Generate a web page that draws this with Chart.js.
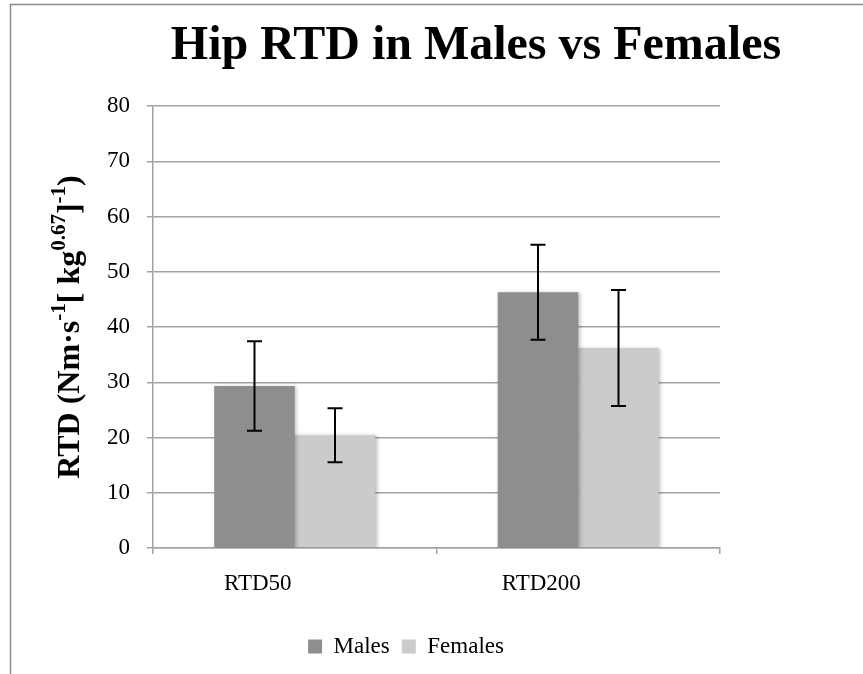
<!DOCTYPE html>
<html>
<head>
<meta charset="utf-8">
<script src="https://cdn.jsdelivr.net/npm/chart.js@4"></script>
<style>
  html, body { margin: 0; padding: 0; background: #ffffff; overflow: hidden; }
  #wrap { position: relative; width: 863px; height: 674px; }
</style>
</head>
<body>
<div id="wrap"><canvas id="c" width="863" height="674"></canvas></div>
<script>
// ---- data ----
const categories = ['RTD50', 'RTD200'];
const seriesNames = ['Males', 'Females'];
const males = [29.3, 46.3];
const malesErr = [8.1, 8.6];
const females = [20.4, 36.2];
const femalesErr = [4.9, 10.5];
const yTicks = [0, 10, 20, 30, 40, 50, 60, 70, 80];
const chartTitle = 'Hip RTD in Males vs Females';
// y axis title segments: [text, superscript?]
const yTitleParts = [
  ['RTD (Nm\u00B7s', false], ['-1', true], ['[ kg', false], ['0.67', true],
  [']', false], ['-1', true], [')', false]
];

const SERIF = '"Liberation Serif", "Times New Roman", serif';
const GRID = '#a3a3a3';

const errs = [malesErr, femalesErr];

const framePlugin = {
  id: 'frame',
  beforeDraw(chart) {
    const ctx = chart.ctx;
    ctx.save();
    ctx.fillStyle = '#ffffff';
    ctx.fillRect(0, 0, chart.width, chart.height);
    ctx.strokeStyle = '#8c8c8c';
    ctx.lineWidth = 1.5;
    ctx.beginPath();
    ctx.moveTo(10.5, chart.height);
    ctx.lineTo(10.5, 4.5);
    ctx.lineTo(chart.width, 4.5);
    ctx.stroke();
    ctx.restore();
  },
  afterDraw(chart) {
    const ctx = chart.ctx;
    // title
    ctx.save();
    ctx.fillStyle = '#000';
    ctx.font = 'bold 48px ' + SERIF;
    ctx.textAlign = 'center';
    ctx.textBaseline = 'alphabetic';
    ctx.fillText(chartTitle, 476, 59);
    ctx.restore();
    // rotated y-axis title with superscripts
    const area = chart.chartArea;
    const mainSize = 32, supSize = 21;
    ctx.save();
    ctx.fillStyle = '#000';
    const widths = yTitleParts.map(([t, sup]) => {
      ctx.font = 'bold ' + (sup ? supSize : mainSize) + 'px ' + SERIF;
      return ctx.measureText(t).width;
    });
    const total = widths.reduce((a, b) => a + b, 0);
    const cy = (area.top + area.bottom) / 2;
    ctx.translate(79, cy);
    ctx.rotate(-Math.PI / 2);
    let x = -total / 2;
    ctx.textBaseline = 'alphabetic';
    ctx.textAlign = 'left';
    yTitleParts.forEach(([t, sup], i) => {
      ctx.font = 'bold ' + (sup ? supSize : mainSize) + 'px ' + SERIF;
      ctx.fillText(t, x, sup ? -14 : 0);
      x += widths[i];
    });
    ctx.restore();
  }
};

const shadowPlugin = {
  id: 'barShadow',
  beforeDatasetsDraw(chart) {
    const ctx = chart.ctx;
    ctx.save();
    ctx.shadowColor = 'rgba(0,0,0,0.28)';
    ctx.shadowBlur = 4;
    ctx.shadowOffsetX = 1.5;
    ctx.shadowOffsetY = 1;
  },
  afterDatasetsDraw(chart) {
    chart.ctx.restore();
  }
};

const errorBarPlugin = {
  id: 'errorBars',
  afterDatasetsDraw(chart) {
    const ctx = chart.ctx;
    const yScale = chart.scales.y;
    ctx.save();
    ctx.strokeStyle = '#000';
    ctx.lineWidth = 2;
    chart.data.datasets.forEach((ds, di) => {
      const meta = chart.getDatasetMeta(di);
      meta.data.forEach((bar, i) => {
        const v = ds.data[i], e = errs[di][i];
        const x = bar.x;
        const yTop = yScale.getPixelForValue(v + e);
        const yBot = yScale.getPixelForValue(v - e);
        const cap = 7.5;
        ctx.beginPath();
        ctx.moveTo(x, yTop); ctx.lineTo(x, yBot);
        ctx.moveTo(x - cap, yTop); ctx.lineTo(x + cap, yTop);
        ctx.moveTo(x - cap, yBot); ctx.lineTo(x + cap, yBot);
        ctx.stroke();
      });
    });
    ctx.restore();
  }
};

new Chart(document.getElementById('c'), {
  type: 'bar',
  data: {
    labels: categories,
    datasets: [
      { label: seriesNames[0], data: males, backgroundColor: '#8e8e8e', borderWidth: 0,
        categoryPercentage: 0.568, barPercentage: 1.0 },
      { label: seriesNames[1], data: females, backgroundColor: '#cbcbcb', borderWidth: 0,
        categoryPercentage: 0.568, barPercentage: 1.0 }
    ]
  },
  options: {
    responsive: false,
    animation: false,
    devicePixelRatio: 1,
    layout: { padding: { left: 92, right: 143, top: 106, bottom: 6 } },
    plugins: {
      title: { display: false },
      tooltip: { enabled: false },
      legend: {
        display: true,
        position: 'bottom',
        labels: {
          boxWidth: 14, boxHeight: 14, padding: 12,
          color: '#000',
          font: { family: SERIF, size: 23 }
        }
      }
    },
    scales: {
      x: {
        offset: true,
        grid: { display: true, drawOnChartArea: false, drawTicks: true, tickLength: 6, color: GRID, lineWidth: 1.5, offset: true },
        border: { display: true, color: GRID, width: 1.5 },
        ticks: { color: '#000', font: { family: SERIF, size: 23 }, padding: 16, labelOffset: -37 },
        afterFit(scale) { scale.height = 75; }
      },
      y: {
        min: 0, max: 80,
        afterBuildTicks(scale) { scale.ticks = yTicks.map(v => ({ value: v })); },
        grid: { color: GRID, lineWidth: 1.5, tickLength: 6, drawTicks: true },
        border: { display: true, color: GRID, width: 1.5 },
        ticks: { color: '#000', font: { family: SERIF, size: 23 }, padding: 17 },
        afterFit(scale) { scale.width = 61; }
      }
    }
  },
  plugins: [framePlugin, shadowPlugin, errorBarPlugin]
});
</script>
</body>
</html>
